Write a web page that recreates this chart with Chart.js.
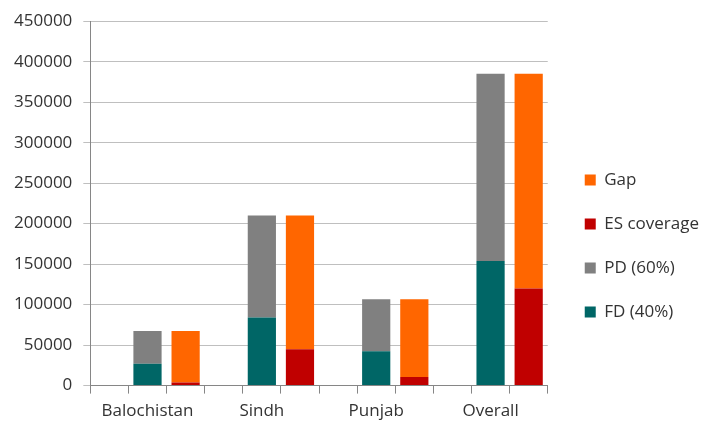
<!DOCTYPE html>
<html>
<head>
<meta charset="utf-8">
<script src="https://cdn.jsdelivr.net/npm/chart.js@4.4.0/dist/chart.umd.min.js"></script>
<style>
  body { margin: 0; background: #fff; }
  #wrap { width: 706px; height: 421px; }
</style>
</head>
<body>
<div id="wrap"><canvas id="grafica" width="706" height="421"></canvas></div>
<script>
// Regiones y valores
var regiones = ["Balochistan", "Sindh", "Punjab", "Overall"];
var fd = [27000, 84000, 42500, 154000];      // FD (40%)
var pd = [40500, 126000, 64000, 231000];     // PD (60%)
var es = [3700, 45000, 10500, 120000];       // ES coverage
var gap = [63800, 165000, 96000, 265000];    // Gap
var ticksY = [0, 50000, 100000, 150000, 200000, 250000, 300000, 350000, 400000, 450000];

// Cada region ocupa 3 huecos: vacio, barra FD/PD, barra ES/Gap
var etiquetas = new Array;
for (var i = 0; i < regiones.length; i++) {
  etiquetas.push("", regiones[i], "");
}
function enHueco(valores, hueco) {
  var res = new Array;
  for (var i = 0; i < valores.length; i++) {
    for (var j = 0; j < 3; j++) {
      res.push(j == hueco ? valores[i] : null);
    }
  }
  return res;
}

var fuente = "'Open Sans', sans-serif";
var ctx = document.getElementById("grafica").getContext("2d");
var grafica = new Chart(ctx, {
  type: "bar",
  data: {
    labels: etiquetas,
    datasets: [
      { label: "FD (40%)", data: enHueco(fd, 1), backgroundColor: "#006666" },
      { label: "PD (60%)", data: enHueco(pd, 1), backgroundColor: "#808080" },
      { label: "ES coverage", data: enHueco(es, 2), backgroundColor: "#C00000" },
      { label: "Gap", data: enHueco(gap, 2), backgroundColor: "#FF6600" }
    ]
  },
  options: {
    responsive: false,
    animation: false,
    layout: { padding: { left: 3, top: 9, right: -3, bottom: -7 } },
    datasets: {
      bar: { categoryPercentage: 1, barPercentage: 0.74, borderWidth: 0 }
    },
    scales: {
      x: {
        stacked: true,
        grid: { drawOnChartArea: false, color: "#868686", tickLength: 8 },
        border: { color: "#868686" },
        ticks: {
          autoSkip: false, maxRotation: 0, minRotation: 0, padding: 7,
          color: "#333333", font: { family: fuente, size: 17 }
        }
      },
      y: {
        stacked: true,
        min: 0, max: 450000,
        afterBuildTicks: function (scale) {
          scale.ticks = ticksY.map(function (v) { return { value: v }; });
        },
        grid: { color: "#BFBFBF", tickLength: 7 },
        border: { color: "#868686" },
        ticks: {
          padding: 11, color: "#333333", font: { family: fuente, size: 17 },
          callback: function (v) { return String(v); }
        }
      },
      // eje oculto: solo deja hueco entre el grafico y la leyenda
      hueco: {
        position: "right",
        display: false,
        afterFit: function (scale) { scale.width = 10; }
      }
    },
    plugins: {
      tooltip: { enabled: false },
      legend: {
        position: "right",
        reverse: true,
        title: { display: true, text: " ", font: { size: 10 }, padding: { top: 43, bottom: 0 } },
        labels: {
          boxWidth: 11, boxHeight: 11, padding: 27,
          color: "#333333", font: { family: fuente, size: 17 }
        }
      }
    }
  }
});
</script>
</body>
</html>
